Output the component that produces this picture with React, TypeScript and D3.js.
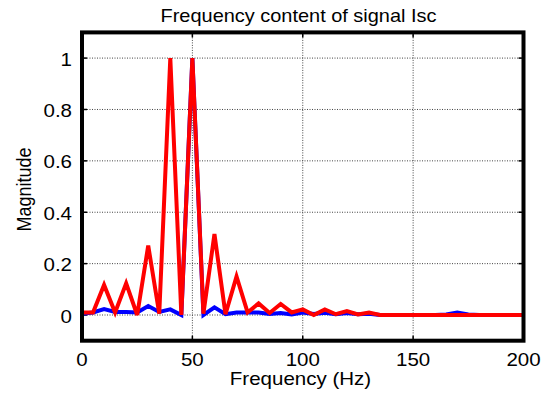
import React from "react";
import * as d3 from "d3";

const freqs = [0,5,10,15,20,25,30,35,40,45,50,55,60,65,70,75,80,85,90,95,100,105,110,115,120,125,130,135,140,145,150,155,160,165,170,175,180,185,190,195,200];
const blueVals = [0.005,0.01,0.023,0.012,0.012,0.01,0.035,0.012,0.022,0.0,1.0,0.0,0.03,0.003,0.01,0.01,0.01,0.004,0.008,0.002,0.01,0.004,0.009,0.003,0.008,0.003,0.005,0.0,0.0,0.0,0.0,0.0,0.0,0.002,0.01,0.002,0.0,0.0,0.0,0.0,0.0];
const redVals = [0.01,0.01,0.117,0.01,0.123,0.0,0.27,0.005,1.0,0.0,1.0,0.005,0.315,0.003,0.15,0.01,0.045,0.008,0.043,0.01,0.022,0.0,0.022,0.003,0.015,0.002,0.01,0.0,0.0,0.0,0.0,0.0,0.0,0.0,0.0,0.0,0.0,0.0,0.0,0.0,0.0];
const xTicks = [0,50,100,150,200];
const yTicks = [0,0.2,0.4,0.6,0.8,1];
const yTickLabels = ["0","0.2","0.4","0.6","0.8","1"];

const W = 549, H = 403;
const L = 82, R = 523.5, T = 32.4, B = 340.7;
const SX = 1.14;
const FS = 18;

export default function App() {
  const x = d3.scaleLinear().domain([0, 200]).range([L, R]);
  const y = d3.scaleLinear().domain([-0.1, 1.1]).range([B, T]);
  const line = d3.line<[number, number]>().x(d => x(d[0])).y(d => y(d[1]));
  const blue = line(freqs.map((f, i) => [f, blueVals[i]] as [number, number])) || "";
  const red = line(freqs.map((f, i) => [f, redVals[i]] as [number, number])) || "";
  const font = "'Liberation Sans', Arial, sans-serif";
  const txt = (px: number, py: number, s: string, anchor: string, fs: number = FS) => (
    <text transform={`translate(${px},${py}) scale(${SX},1)`} fontSize={fs} textAnchor={anchor} fill="#000">{s}</text>
  );
  return (
    <svg width={W} height={H} style={{ position: "absolute", left: 0, top: 0, background: "#fff" }} fontFamily={font}>
      <rect x={0} y={0} width={W} height={H} fill="#fff" />
      {xTicks.slice(1, -1).map(t => (
        <line key={"gx" + t} x1={x(t)} x2={x(t)} y1={T} y2={B} stroke="#444" strokeWidth={1} strokeDasharray="1,1.5" />
      ))}
      {yTicks.map(t => (
        <line key={"gy" + t} x1={L} x2={R} y1={y(t)} y2={y(t)} stroke="#444" strokeWidth={1} strokeDasharray="1,1.5" />
      ))}
      {xTicks.map(t => (
        <g key={"tx" + t}>
          <line x1={x(t)} x2={x(t)} y1={B} y2={B - 5} stroke="#000" strokeWidth={1.5} />
          <line x1={x(t)} x2={x(t)} y1={T} y2={T + 5} stroke="#000" strokeWidth={1.5} />
          {txt(x(t), 366, String(t), "middle")}
        </g>
      ))}
      {yTicks.map((t, i) => (
        <g key={"ty" + t}>
          <line x1={L} x2={L + 5} y1={y(t)} y2={y(t)} stroke="#000" strokeWidth={1.5} />
          <line x1={R} x2={R - 5} y1={y(t)} y2={y(t)} stroke="#000" strokeWidth={1.5} />
          {txt(72, y(t) + 7.5, yTickLabels[i], "end")}
        </g>
      ))}
      <path d={blue} fill="none" stroke="#0000ff" strokeWidth={4} strokeLinejoin="miter" />
      <path d={red} fill="none" stroke="#ff0000" strokeWidth={4} strokeLinejoin="miter" />
      <rect x={L} y={T} width={R - L} height={B - T} fill="none" stroke="#000" strokeWidth={4} />
      {txt(298.5, 21.7, "Frequency content of signal Isc", "middle", 17.5)}
      {txt(300.5, 385, "Frequency (Hz)", "middle")}
      <text transform={`translate(31,${189.5}) scale(${SX},1) rotate(-90)`} fontSize={FS} textAnchor="middle" fill="#000">Magnitude</text>
    </svg>
  );
}
